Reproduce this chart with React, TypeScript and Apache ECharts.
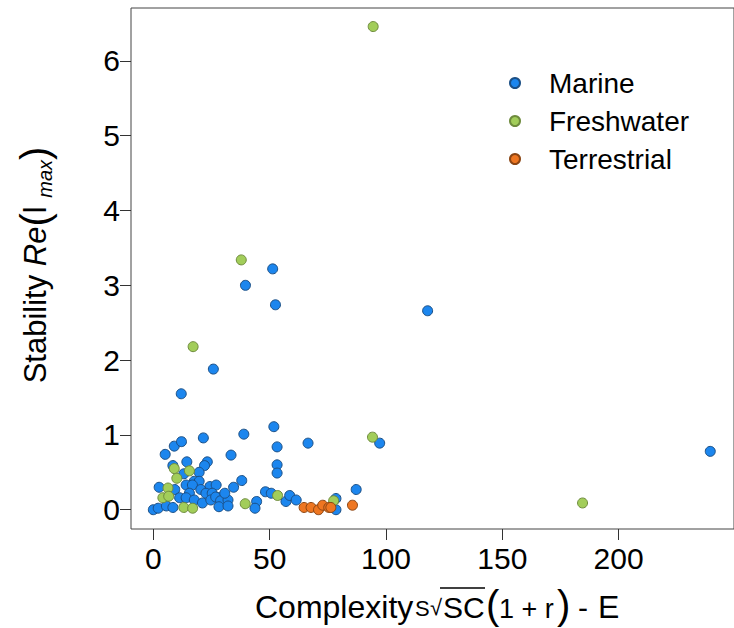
import React, { useEffect, useRef } from "react";
import * as echarts from "echarts";

const FONT = "Liberation Sans, Arial, Helvetica, sans-serif";

const seriesNames = ["Marine", "Freshwater", "Terrestrial"];
const xTicks = [0, 50, 100, 150, 200];
const yTicks = [0, 1, 2, 3, 4, 5, 6];

const marine: [number, number][] = [
  [0, 0.0], [2.1, 0.02], [2.5, 0.3], [5.6, 0.05], [5.1, 0.74], [8.4, 0.03],
  [9.0, 0.85], [12.1, 0.91], [12.0, 1.55], [25.8, 1.88], [21.5, 0.96],
  [38.9, 1.01], [51.8, 1.11], [53.2, 0.84], [33.4, 0.73], [23.2, 0.64],
  [22.0, 0.59], [14.4, 0.64], [53.2, 0.6], [53.2, 0.49], [8.4, 0.59],
  [13.1, 0.48], [19.7, 0.5], [17.6, 0.38], [19.7, 0.38], [14.1, 0.33],
  [16.8, 0.33], [24.3, 0.31], [27.0, 0.33], [9.2, 0.27], [20.4, 0.27],
  [15.5, 0.22], [22.6, 0.22], [25.3, 0.22], [11.3, 0.16], [14.1, 0.16],
  [17.6, 0.13], [21.1, 0.09], [24.7, 0.13], [28.2, 0.16], [26.8, 0.17],
  [28.9, 0.12], [32.1, 0.13], [28.2, 0.04], [32.1, 0.05], [34.5, 0.3],
  [30.7, 0.22], [38.0, 0.39], [48.2, 0.24], [50.7, 0.22], [57.0, 0.11],
  [44.4, 0.11], [43.7, 0.02], [58.6, 0.19], [61.4, 0.13], [78.5, 0.0],
  [78.5, 0.15], [87.2, 0.27], [66.5, 0.89], [97.3, 0.89], [117.9, 2.66],
  [239.4, 0.78], [51.3, 3.22], [39.6, 3.0], [52.5, 2.74],
];

const freshwater: [number, number][] = [
  [94.5, 6.46], [37.8, 3.34], [17.1, 2.18], [94.2, 0.97], [184.5, 0.09],
  [77.5, 0.12], [53.4, 0.19], [39.5, 0.08], [9.0, 0.55], [15.5, 0.52],
  [10.1, 0.42], [6.3, 0.29], [4.1, 0.16], [6.6, 0.18], [13.1, 0.03],
  [16.9, 0.02],
];

const terrestrial: [number, number][] = [
  [64.8, 0.03], [67.8, 0.03], [71.0, 0.0], [72.8, 0.06], [75.4, 0.03],
  [76.3, 0.03], [85.6, 0.06],
];

const fills = ["#1C86EE", "#A2CD5A", "#EE7621"];
const borders = ["#1B4F85", "#6E8B3D", "#8B4513"];

export default function App() {
  const ref = useRef<HTMLDivElement>(null);
  useEffect(() => {
    if (!ref.current) return;
    const chart = echarts.init(ref.current, undefined, { renderer: "svg" });
    const datasets = [marine, freshwater, terrestrial];
    const txt = (x: number, y: number, text: string, size: number, family: string = FONT) => ({
      type: "text",
      x,
      y,
      style: {
        text,
        font: `normal ${size}px ${family}`,
        fill: "#000",
        textAlign: "left",
        textVerticalAlign: "middle",
      },
    });
    chart.setOption({
      animation: false,
      backgroundColor: "#fff",
      grid: {
        left: 131,
        top: 8,
        right: -10,
        bottom: 99,
        show: true,
        borderColor: "#444",
        borderWidth: 1,
        backgroundColor: "transparent",
      },
      xAxis: {
        type: "value",
        min: -9.6,
        max: 249.6,
        splitLine: { show: false },
        axisLine: { show: false, onZero: false },
        axisTick: {
          show: true,
          inside: false,
          customValues: xTicks,
          length: 11,
          lineStyle: { color: "#333", width: 1 },
        },
        axisLabel: {
          customValues: xTicks,
          fontSize: 30,
          fontFamily: FONT,
          color: "#000",
          margin: 14,
        },
      },
      yAxis: {
        type: "value",
        min: -0.258,
        max: 6.708,
        splitLine: { show: false },
        axisLine: { show: false, onZero: false },
        axisTick: {
          show: true,
          inside: false,
          customValues: yTicks,
          length: 11,
          lineStyle: { color: "#333", width: 1 },
        },
        axisLabel: {
          customValues: yTicks,
          fontSize: 30,
          fontFamily: FONT,
          color: "#000",
          margin: 11,
        },
      },
      legend: {
        orient: "vertical",
        left: 504,
        top: 64,
        itemWidth: 58,
        itemHeight: 10,
        itemGap: 10,
        icon: "circle",
        textStyle: { fontSize: 28, fontFamily: FONT, color: "#000" },
        data: seriesNames,
      },
      series: seriesNames.map((name, i) => ({
        name,
        type: "scatter",
        data: datasets[i],
        symbol: "circle",
        symbolSize: 10,
        itemStyle: { color: fills[i], borderColor: borders[i], borderWidth: 1, opacity: 1 },
        emphasis: { disabled: true },
      })),
      graphic: [
        txt(255, 607, "Complexity", 32),
        txt(415, 608, "S", 22),
        txt(430, 607, "√", 22),
        { type: "line", shape: { x1: 440, y1: 588, x2: 485, y2: 588 }, style: { stroke: "#000", lineWidth: 1.3 } },
        txt(443, 607, "SC", 30),
        txt(486, 605, "(", 40),
        txt(499, 609, "1 + r", 27),
        txt(557, 605, ")", 40),
        txt(578, 607, "-", 30),
        txt(598, 607, "E", 32),
        {
          type: "text",
          x: 35,
          y: 265,
          rotation: Math.PI / 2,
          style: {
            text: "{a|Stability }{i|Re}{p|(}{a|l }{s|max}{p|)}",
            textAlign: "center",
            textVerticalAlign: "middle",
            fill: "#000",
            rich: {
              a: { fontSize: 31, fontFamily: FONT, fill: "#000" },
              i: { fontSize: 31, fontFamily: FONT, fontStyle: "italic", fill: "#000" },
              p: { fontSize: 40, fontFamily: FONT, fill: "#000" },
              s: { fontSize: 20, fontFamily: FONT, fontStyle: "italic", fill: "#000", verticalAlign: "bottom" },
            },
          },
        },
      ],
    });
    return () => chart.dispose();
  }, []);
  return (
    <div
      ref={ref}
      style={{ position: "absolute", left: 0, top: 0, width: 734, height: 628 }}
    />
  );
}
